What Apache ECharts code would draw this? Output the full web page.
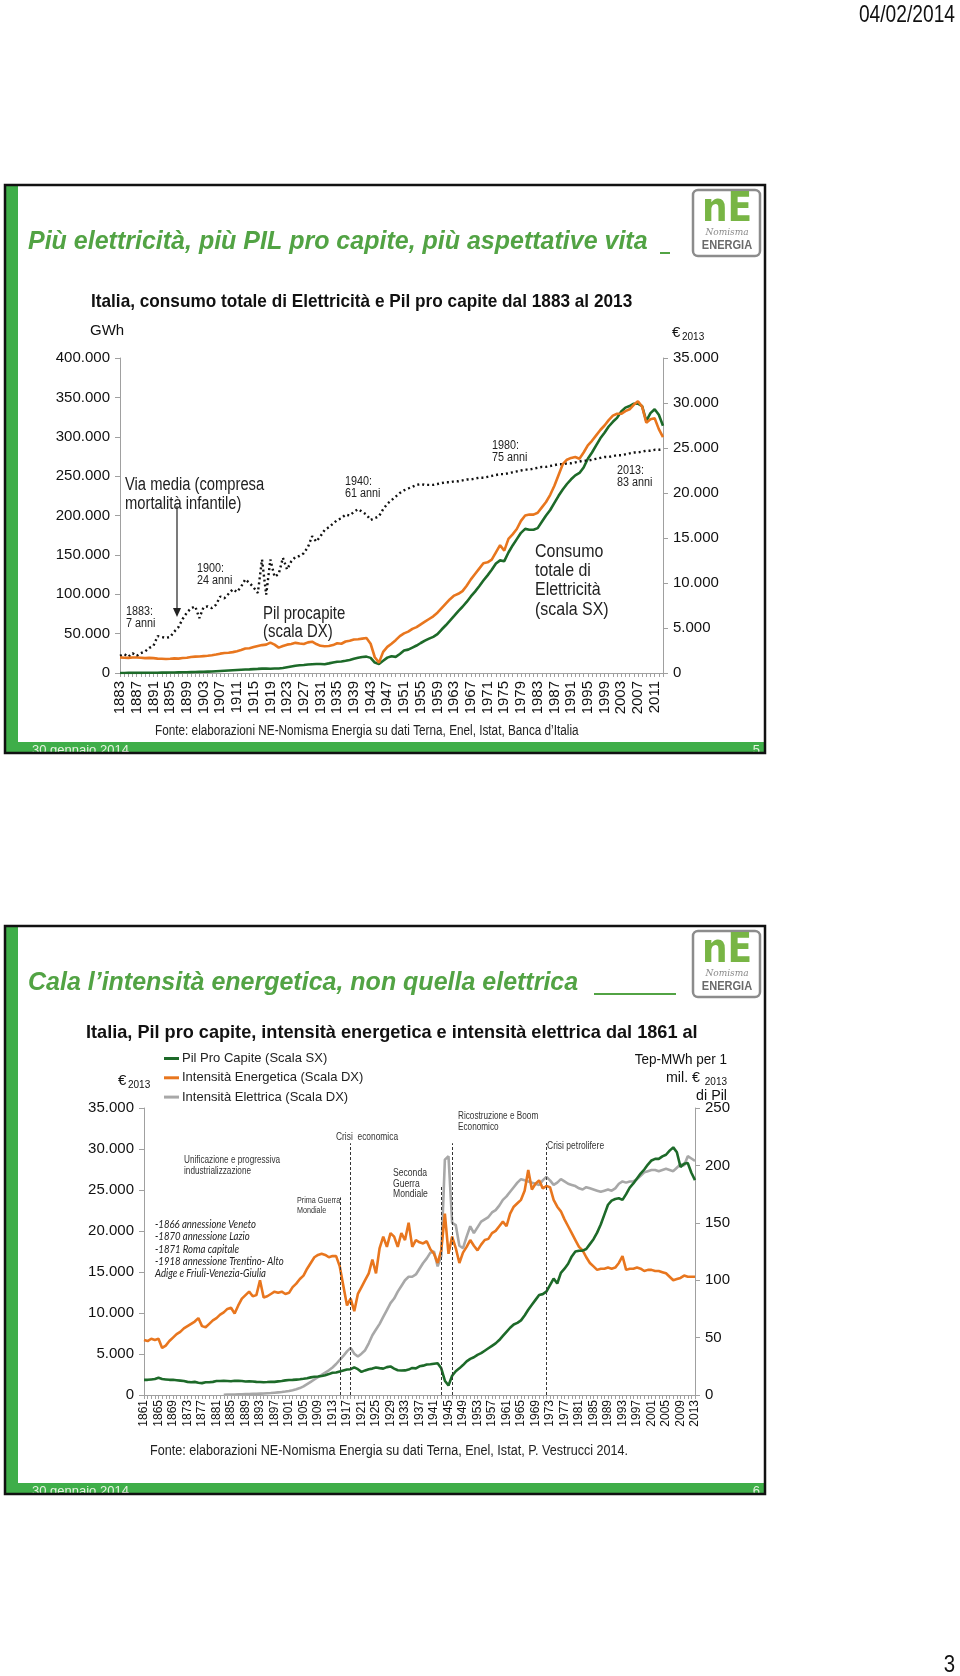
<!DOCTYPE html>
<html><head><meta charset="utf-8">
<script src="https://cdn.jsdelivr.net/npm/echarts/dist/echarts.min.js"></script>
<style>html,body{margin:0;padding:0;background:#fff;}#c{width:960px;height:1676px;}</style>
</head><body><div id="c"></div>
<script>
// ---------- DATA ----------
// Chart 1 categories: 1883..2013 ; Chart 2 categories: 1861..2013
const years1 = Array.from({length: 131}, (_, i) => String(1883 + i));
const years2 = Array.from({length: 153}, (_, i) => String(1861 + i));

// Pil pro capite, migliaia di euro 2013, 1861-2013
const pilProCapite = [
  1.85,1.85,1.9,1.95,2.1,1.95,1.9,1.85,1.85,1.8,
  1.75,1.7,1.6,1.55,1.6,1.5,1.45,1.55,1.55,1.6,
  1.7,1.7,1.72,1.7,1.68,1.73,1.72,1.7,1.65,1.68,
  1.65,1.6,1.58,1.55,1.58,1.62,1.6,1.66,1.7,1.78,
  1.82,1.84,1.88,1.92,1.98,2.05,2.15,2.22,2.25,2.32,
  2.42,2.55,2.72,2.75,2.88,3.0,3.1,3.15,3.38,3.15,
  2.82,3.0,3.15,3.22,3.35,3.28,3.22,3.4,3.48,3.22,
  3.02,2.98,3.0,3.1,3.3,3.25,3.5,3.58,3.72,3.75,
  3.82,3.88,3.25,1.75,1.15,2.35,2.9,3.25,3.65,4.1,
  4.4,4.6,4.9,5.1,5.4,5.7,6.0,6.3,6.7,7.2,
  7.7,8.2,8.6,8.8,9.1,9.7,10.4,11.0,11.6,12.2,
  12.3,12.6,13.4,14.2,13.6,14.9,15.4,16.0,16.9,17.5,
  17.6,17.6,17.8,18.4,19.0,19.8,20.8,22.0,23.2,23.7,
  23.9,24.0,23.8,24.5,25.3,25.8,26.4,27.0,27.5,28.1,
  28.6,28.8,28.8,29.1,29.3,29.8,30.2,29.6,27.8,28.2,
  28.3,27.1,26.2
];

// Consumo totale di elettricità, migliaia di GWh, 1883-2013
const consumoElettricita = [
  0.05,0.08,0.1,0.12,0.15,0.2,0.25,0.3,
  0.35,0.4,0.45,0.5,0.6,0.7,0.8,0.9,1.0,1.1,
  1.2,1.4,1.6,1.8,2.0,2.3,2.6,2.9,3.2,3.5,
  3.8,4.1,4.4,4.6,4.9,5.2,5.6,5.6,5.4,5.8,
  5.7,6.3,7.3,8.3,9.3,9.8,10.2,10.7,11.2,11.5,
  11.5,11.2,12.2,13.3,14.3,14.6,15.5,16.5,18.1,19.3,
  20.3,20.8,19.2,13.2,11.5,15.5,19.5,21.3,20.5,24.2,
  28.5,29.7,32.3,34.9,38.1,41.1,43.6,45.9,49.3,55.2,
  60.6,66.5,72.5,78.6,84.1,90.2,97.2,103.4,110.1,117.4,
  124,131,139,143,142,153,162,170,178,183,
  182,182,184,192,200,207,216,225,233,240,
  246,251,254,261,272,280,289,298,305,313,
  319,324,332,337,339,342,342,339,320,330,
  335,328,314
];

const vitaMedia = [
  1.9,2.1,1.8,2.2,1.9,2.2,2.4,2.8,
  3.0,4.1,4.0,3.9,4.0,4.6,5.1,6.0,6.7,7.2,
  7.4,6.1,7.3,7.4,7.2,7.6,8.5,8.3,8.8,9.3,
  9.0,9.6,10.4,10.0,9.5,8.9,12.6,8.7,12.6,10.7,
  11.0,12.8,11.5,12.4,12.9,13.0,13.3,14.0,15.2,14.6,
  15.2,15.9,16.2,16.6,17.0,17.2,17.6,17.5,17.9,18.2,
  17.9,17.6,17.0,17.2,17.4,18.2,18.8,19.2,19.6,20.0,
  20.3,20.5,20.7,20.9,21.0,20.9,20.9,20.9,21.0,21.1,
  21.2,21.2,21.3,21.3,21.4,21.5,21.5,21.6,21.7,21.7,
  21.8,21.9,22.0,22.1,22.1,22.2,22.3,22.4,22.5,22.6,
  22.6,22.7,22.8,22.9,22.9,23.0,23.1,23.2,23.2,23.3,
  23.3,23.4,23.5,23.6,23.6,23.7,23.8,23.9,24.0,24.0,
  24.1,24.2,24.2,24.3,24.4,24.5,24.5,24.6,24.7,24.7,
  24.8,24.8,24.9
];

// Intensità energetica (Tep per 1 mil. €2013 di Pil), 1861-2013
const intensitaEnergetica = [
  48,47,49,48,49,41,43,47,50,53,
  55,58,60,62,64,67,60,59,62,65,
  67,70,72,75,76,71,78,84,87,90,
  86,87,100,85,86,88,90,89,90,88,
  89,94,97,101,104,110,115,120,122,123,
  122,120,121,121,112,95,78,84,73,88,
  94,100,106,118,106,128,138,129,141,138,
  129,141,135,150,129,135,133,132,134,127,
  123,115,126,158,123,138,128,115,124,129,
  135,130,126,131,135,136,141,143,147,151,
  147,158,164,167,170,178,196,179,184,187,
  180,182,181,170,164,160,153,147,141,135,
  129,126,120,115,112,109,110,110,111,110,
  111,115,121,109,110,110,111,110,108,109,
  109,108,108,107,106,103,100,101,102,104,
  103,103,103
];

// Intensità elettrica (MWh per 1 mil. €2013 di Pil), 1861-2013
const intensitaElettrica = [
  null,null,null,null,null,null,null,null,null,null,
  null,null,null,null,null,null,null,null,null,null,
  null,null,
  0.2,0.3,0.4,0.5,0.6,0.7,0.8,0.9,
  1.0,1.1,1.2,1.3,1.5,1.7,2.0,2.3,2.6,3.0,
  3.5,4.2,5.0,6.0,7.5,9.5,11.5,13.5,15.5,17.5,
  19.5,21.5,24,27,30.5,34,38,41,36,33.5,
  36,39,45,52,57,62,68,74,80,84,
  90,95,100,103,103,105,110,115,119,124,
  125,112,121,205,208,150,148,130,128,138,
  147,141,146,151,153,155,159,161,165,170,
  173,177,181,185,188,187,186,185,184,183,
  187,190,187,183,185,188,186,184,183,182,
  180,179,181,180,179,178,177,178,179,178,
  180,184,186,185,186,186,188,191,194,195,
  196,196,195,196,197,196,195,198,201,200,
  208,206,204
];

// Eventi storici (linee tratteggiate, grafico 2): anno e altezza sulla scala SX
const eventYears = ['1915', '1918', '1943', '1946', '1972'];
const eventTops  = [24.1, 30.7, 25.6, 30.7, 30.7];

// Tick labels
const fmtThousands = v => (v === 0 ? '0' : v + '.000');

// ---------- STYLE ----------
const GREEN_T = '#52a344';
const SLIDE_GREEN = '#3fae49';
const C_GREEN = '#1d6a29';
const C_ORANGE = '#e8761e';
const C_GREY = '#a8a8a8';
const AX = '#a0a0a0';
const SANS = '"Liberation Sans", Arial, sans-serif';

const g = [];
function T(x, y, text, font, fill, align, va, z, sx, lh) {
  const st = {text: text, font: font, fill: fill || '#222', align: align || 'left', verticalAlign: va || 'middle'};
  if (lh) st.lineHeight = lh;
  g.push({type: 'text', x: x, y: y, z: z == null ? 10 : z, silent: true, scaleX: sx || 1, style: st});
}
function slide(top, bottom, title, underline, subtitle, pageNo) {
  g.push({type: 'rect', z: -5, silent: true, shape: {x: 5, y: top, width: 760, height: bottom - top}, style: {fill: '#fff'}});
  g.push({type: 'rect', z: -4, silent: true, shape: {x: 6, y: top, width: 12, height: bottom - top}, style: {fill: SLIDE_GREEN}});
  g.push({type: 'rect', z: -4, silent: true, shape: {x: 6, y: bottom - 11, width: 758, height: 11}, style: {fill: SLIDE_GREEN}});
  g.push({type: 'rect', z: -3, silent: true, shape: {x: 18, y: top + 1, width: 746, height: bottom - top - 12, r: [0, 0, 0, 12]}, style: {fill: '#fff'}});
  T(32, bottom - 9, '30 gennaio 2014', '13px ' + SANS, '#e6f3e0', 'left', 'top', 1);
  T(760, bottom - 9, String(pageNo), '13px ' + SANS, '#e6f3e0', 'right', 'top', 1);
  g.push({type: 'rect', z: 2, silent: true, shape: {x: 0, y: bottom + 1, width: 960, height: 10}, style: {fill: '#fff'}});
  g.push({type: 'rect', z: 3, silent: true, shape: {x: 5, y: top, width: 760, height: bottom - top}, style: {fill: null, stroke: '#111', lineWidth: 2.5}});
  // title
  T(28, top + 57, title, 'italic bold 25px ' + SANS, GREEN_T, 'left', 'middle');
  g.push({type: 'line', z: 10, silent: true, shape: underline, style: {stroke: GREEN_T, lineWidth: 2}});
  // logo
  g.push({type: 'rect', z: 10, silent: true, shape: {x: 693, y: top + 5, width: 67, height: 66, r: 5}, style: {fill: '#fff', stroke: '#8c8c8c', lineWidth: 2.5}});
  T(727, top + 26, 'nE', 'bold 40px "DejaVu Sans Condensed", sans-serif', '#78b545', 'center', 'middle', 11);
  T(727, top + 48, 'Nomisma', 'italic 9px "DejaVu Serif", serif', '#8a8a8a', 'center', 'middle', 11);
  T(727, top + 60, 'ENERGIA', 'bold 13px ' + SANS, '#6a6a6a', 'center', 'middle', 11, 0.85);
  // subtitle
  T(subtitle[1], subtitle[2], subtitle[0], 'bold 18.5px ' + SANS, '#111', 'left', 'middle', 10, subtitle[3]);
}

// page chrome
T(955, 15, '04/02/2014', '24px ' + SANS, '#111', 'right', 'middle', 10, 0.8);
T(955, 1665, '3', '24px ' + SANS, '#111', 'right', 'middle', 10, 0.85);

slide(185, 753, 'Più elettricità, più PIL pro capite, più aspettative vita',
  {x1: 660, y1: 253, x2: 670, y2: 253},
  ['Italia, consumo totale di Elettricità e Pil pro capite dal 1883 al 2013', 91, 302, 0.93], 5);
slide(926, 1494, 'Cala l\u2019intensità energetica, non quella elettrica',
  {x1: 594, y1: 994, x2: 676, y2: 994},
  ['Italia, Pil pro capite, intensità energetica e intensità elettrica dal 1861 al', 86, 1033, 0.98], 6);

// ---- chart 1 annotations ----
T(90, 331, 'GWh', '15px ' + SANS, '#111');
T(672, 333, '€', '15px ' + SANS, '#111');
T(682, 337, '2013', '10px ' + SANS, '#111');
T(125, 476, 'Via media (compresa\nmortalità infantile)', '18px ' + SANS, '#222', 'left', 'top', 10, 0.82, 19);
g.push({type: 'line', z: 10, silent: true, shape: {x1: 177, y1: 506, x2: 177, y2: 610}, style: {stroke: '#222', lineWidth: 1.2}});
g.push({type: 'polygon', z: 10, silent: true, shape: {points: [[173, 608], [181, 608], [177, 617]]}, style: {fill: '#222'}});
T(126, 605, '1883:\n7 anni', '12px ' + SANS, '#222', 'left', 'top', 10, 0.9, 12.5);
T(197, 562, '1900:\n24 anni', '12px ' + SANS, '#222', 'left', 'top', 10, 0.9, 12.5);
T(263, 605, 'Pil procapite\n(scala DX)', '18px ' + SANS, '#222', 'left', 'top', 10, 0.83, 18);
T(345, 475, '1940:\n61 anni', '12px ' + SANS, '#222', 'left', 'top', 10, 0.9, 12.5);
T(492, 439, '1980:\n75 anni', '12px ' + SANS, '#222', 'left', 'top', 10, 0.9, 12.5);
T(617, 464, '2013:\n83 anni', '12px ' + SANS, '#222', 'left', 'top', 10, 0.9, 12.5);
T(535, 542, 'Consumo\ntotale di\nElettricità\n(scala SX)', '19px ' + SANS, '#222', 'left', 'top', 10, 0.84, 19.3);
T(155, 731, 'Fonte: elaborazioni NE-Nomisma Energia su dati Terna, Enel, Istat, Banca d\u2019Italia', '14px ' + SANS, '#222', 'left', 'middle', 10, 0.84);

// ---- chart 2 annotations ----
T(118, 1081, '€', '15px ' + SANS, '#111');
T(128, 1085, '2013', '10px ' + SANS, '#111');
T(727, 1060, 'Tep-MWh per 1', '15px ' + SANS, '#111', 'right', 'middle', 10, 0.9);
T(727, 1082, '2013', '10px ' + SANS, '#111', 'right');
T(700, 1078, 'mil. €', '15px ' + SANS, '#111', 'right', 'middle', 10, 0.95);
T(727, 1096, 'di Pil', '15px ' + SANS, '#111', 'right', 'middle', 10, 0.95);
T(184, 1155, 'Unificazione e progressiva\nindustrializzazione', '10px ' + SANS, '#333', 'left', 'top', 10, 0.82, 11);
T(297, 1195, 'Prima Guerra\nMondiale', '9px ' + SANS, '#333', 'left', 'top', 10, 0.8, 10.5);
T(336, 1137, 'Crisi  economica', '10px ' + SANS, '#333', 'left', 'middle', 10, 0.84);
T(393, 1168, 'Seconda\nGuerra\nMondiale', '10px ' + SANS, '#333', 'left', 'top', 10, 0.86, 10.5);
T(458, 1111, 'Ricostruzione e Boom\nEconomico', '10px ' + SANS, '#333', 'left', 'top', 10, 0.82, 10.5);
T(547, 1146, 'Crisi petrolifere', '10px ' + SANS, '#333', 'left', 'middle', 10, 0.85);
T(155, 1218, '-1866 annessione Veneto\n-1870 annessione Lazio\n-1871 Roma capitale\n-1918 annessione Trentino- Alto\nAdige e Friuli-Venezia-Giulia', 'italic 11px Lato, sans-serif', '#222', 'left', 'top', 10, 0.87, 12.4);
T(150, 1451, 'Fonte: elaborazioni NE-Nomisma Energia su dati Terna, Enel, Istat, P. Vestrucci 2014.', '14px ' + SANS, '#222', 'left', 'middle', 10, 0.9);

// ---------- AXES ----------
function xCat(grid, data, fs, margin) {
  return {type: 'category', gridIndex: grid, data: data, boundaryGap: false,
    axisLine: {lineStyle: {color: AX, width: 1}},
    axisTick: {interval: 0, length: 4, lineStyle: {color: AX}},
    axisLabel: {interval: 3, rotate: 90, fontSize: fs, fontFamily: SANS, color: '#111', margin: margin},
    splitLine: {show: false}};
}
function yVal(grid, pos, max, step, fmt, fs) {
  return {type: 'value', gridIndex: grid, position: pos, min: 0, max: max, interval: step,
    axisLine: {show: true, lineStyle: {color: AX, width: 1}},
    axisTick: {show: true, length: 5, lineStyle: {color: AX}},
    axisLabel: {formatter: fmt, fontSize: fs, fontFamily: SANS, color: '#111', margin: 10},
    splitLine: {show: false}};
}

const option = {
  backgroundColor: '#fff',
  animation: false,
  grid: [
    {left: 120, right: 297, top: 358, height: 315},
    {left: 144, right: 265, top: 1108, height: 287}
  ],
  legend: {
    data: ['Pil Pro Capite (Scala SX)', 'Intensità Energetica (Scala DX)', 'Intensità Elettrica (Scala DX)'],
    orient: 'vertical', left: 159, top: 1047, icon: 'rect', itemWidth: 15, itemHeight: 3, itemGap: 6.3,
    selectedMode: false, textStyle: {fontFamily: SANS, fontSize: 13, color: '#222', padding: [0, 0, 0, -2]}
  },
  xAxis: [xCat(0, years1, 15, 8), xCat(1, years2, 12, 5)],
  yAxis: [
    yVal(0, 'left', 400, 50, fmtThousands, 15),
    yVal(0, 'right', 35, 5, fmtThousands, 15),
    yVal(1, 'left', 35, 5, fmtThousands, 15),
    yVal(1, 'right', 250, 50, v => String(v), 15)
  ],
  series: [
    {name: 'Consumo totale di Elettricità', type: 'line', xAxisIndex: 0, yAxisIndex: 0, data: consumoElettricita,
      symbol: 'none', lineStyle: {color: C_GREEN, width: 2.6}, itemStyle: {color: C_GREEN}, z: 3},
    {name: 'Pil procapite', type: 'line', xAxisIndex: 0, yAxisIndex: 1, data: pilProCapite.slice(22),
      symbol: 'none', lineStyle: {color: C_ORANGE, width: 2.6}, itemStyle: {color: C_ORANGE}, z: 4},
    {name: 'Vita media', type: 'line', xAxisIndex: 0, yAxisIndex: 1, data: vitaMedia,
      symbol: 'none', lineStyle: {color: '#111', width: 2.4, type: [2, 3]}, itemStyle: {color: '#111'}, z: 3},
    {name: 'Pil Pro Capite (Scala SX)', type: 'line', xAxisIndex: 1, yAxisIndex: 2, data: pilProCapite,
      symbol: 'none', lineStyle: {color: C_GREEN, width: 2.6}, itemStyle: {color: C_GREEN}, z: 4,
      markLine: {silent: true, symbol: ['none', 'none'], label: {show: false},
        lineStyle: {color: '#333', width: 1, type: [3, 2]},
        data: eventYears.map((y, i) => [{coord: [y, 0]}, {coord: [y, eventTops[i]]}])}},
    {name: 'Intensità Energetica (Scala DX)', type: 'line', xAxisIndex: 1, yAxisIndex: 3, data: intensitaEnergetica,
      symbol: 'none', lineStyle: {color: C_ORANGE, width: 2.6}, itemStyle: {color: C_ORANGE}, z: 3},
    {name: 'Intensità Elettrica (Scala DX)', type: 'line', xAxisIndex: 1, yAxisIndex: 3, data: intensitaElettrica,
      symbol: 'none', lineStyle: {color: C_GREY, width: 2.6}, itemStyle: {color: C_GREY}, z: 2}
  ],
  graphic: {elements: g}
};

const chart = echarts.init(document.getElementById('c'), null, {renderer: 'canvas', width: 960, height: 1676});
chart.setOption(option);
</script></body></html>
